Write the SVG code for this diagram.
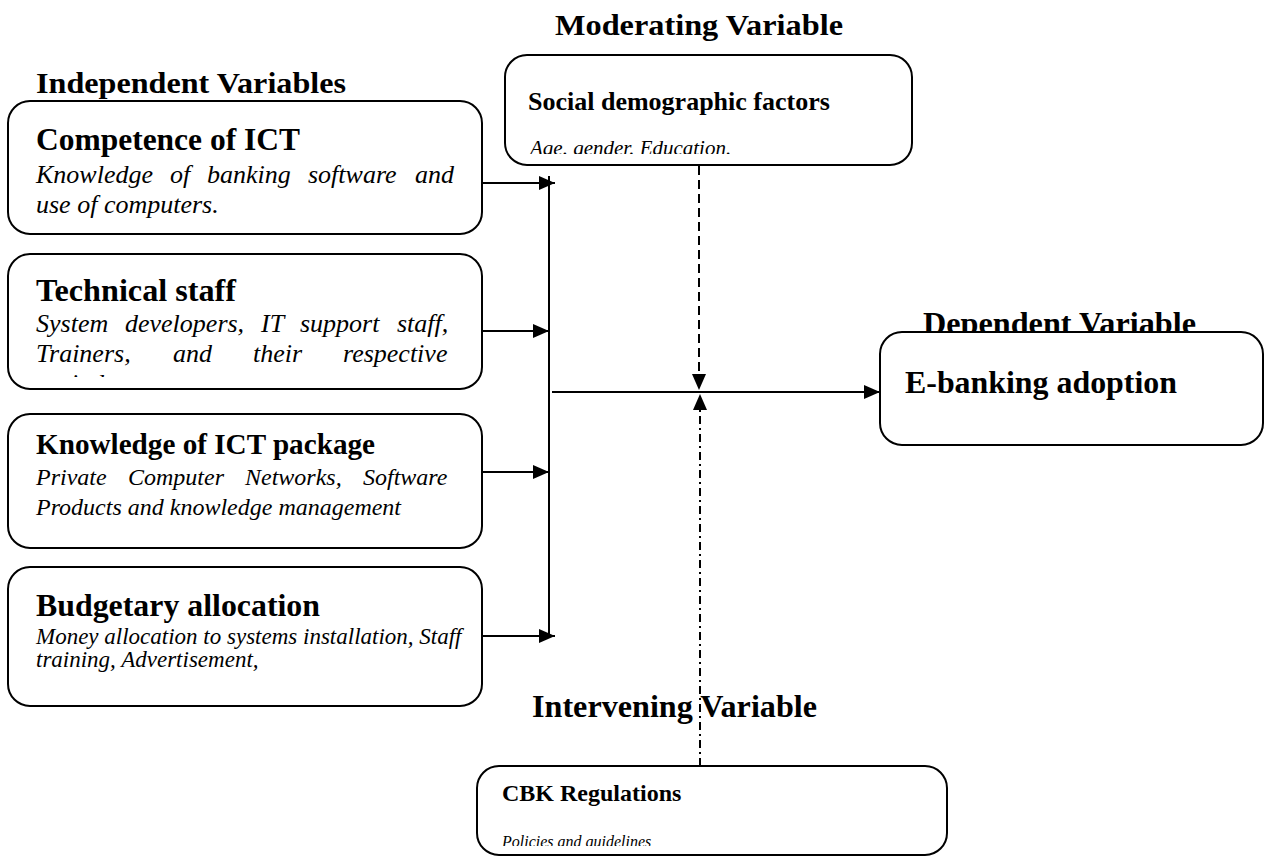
<svg xmlns="http://www.w3.org/2000/svg" width="1264" height="857" viewBox="0 0 1264 857">
<style>
.box{fill:#fff;stroke:#000;stroke-width:2}
.b{font-family:"Liberation Serif","Times New Roman",serif;font-weight:bold;fill:#000}
.i{font-family:"Liberation Serif","Times New Roman",serif;font-style:italic;fill:#000}
.ln{stroke:#000;stroke-width:2;fill:none}
</style>
<defs>
<marker id="ah" markerUnits="userSpaceOnUse" markerWidth="18" markerHeight="16" refX="16" refY="7" orient="auto"><path d="M0,0 L16,7 L0,14 z" fill="#000"/></marker>
<clipPath id="c2"><rect x="8" y="254" width="474" height="123"/></clipPath>
<clipPath id="cs"><rect x="505" y="55" width="407" height="99"/></clipPath>
<clipPath id="cc"><rect x="477" y="766" width="470" height="80"/></clipPath>
</defs>
<rect width="1264" height="857" fill="#fff"/>

<text class="b" x="36" y="93" font-size="30" textLength="310" lengthAdjust="spacingAndGlyphs">Independent Variables</text>
<text class="b" x="555" y="35" font-size="30" textLength="288" lengthAdjust="spacingAndGlyphs">Moderating Variable</text>
<text class="b" x="923" y="334" font-size="31" textLength="273" lengthAdjust="spacingAndGlyphs">Dependent Variable</text>
<text class="b" x="532" y="717" font-size="31" textLength="285" lengthAdjust="spacingAndGlyphs">Intervening Variable</text>

<g id="competence">
<rect class="box" x="8" y="101" width="474" height="133" rx="22"/>
<text class="b" x="36" y="150" font-size="32" textLength="264" lengthAdjust="spacingAndGlyphs">Competence of ICT</text>
<text class="i" y="183" font-size="26"><tspan x="36">Knowledge</tspan><tspan x="170">of</tspan><tspan x="207">banking</tspan><tspan x="308">software</tspan><tspan x="415">and</tspan></text>
<text class="i" x="36" y="213" font-size="26">use of computers.</text>
</g>

<g id="technical">
<rect class="box" x="8" y="254" width="474" height="135" rx="22"/>
<text class="b" x="36" y="301" font-size="32" textLength="200" lengthAdjust="spacingAndGlyphs">Technical staff</text>
<text class="i" y="332" font-size="26"><tspan x="36">System</tspan><tspan x="125">developers,</tspan><tspan x="261">IT</tspan><tspan x="300">support</tspan><tspan x="397">staff,</tspan></text>
<text class="i" y="362" font-size="26"><tspan x="36">Trainers,</tspan><tspan x="173">and</tspan><tspan x="253">their</tspan><tspan x="343">respective</tspan></text>
<text class="i" x="36" y="392" font-size="26" clip-path="url(#c2)">periods</text>
</g>

<g id="package">
<rect class="box" x="8" y="414" width="474" height="134" rx="22"/>
<text class="b" x="36" y="454" font-size="29" textLength="339" lengthAdjust="spacingAndGlyphs">Knowledge of ICT package</text>
<text class="i" y="485" font-size="24"><tspan x="36">Private</tspan><tspan x="128">Computer</tspan><tspan x="245">Networks,</tspan><tspan x="363">Software</tspan></text>
<text class="i" x="36" y="515" font-size="24">Products and knowledge management</text>
</g>

<g id="budget">
<rect class="box" x="8" y="567" width="474" height="139" rx="22"/>
<text class="b" x="36" y="616" font-size="32" textLength="284" lengthAdjust="spacingAndGlyphs">Budgetary allocation</text>
<text class="i" x="36" y="644" font-size="23">Money allocation to systems installation, Staff</text>
<text class="i" x="36" y="667" font-size="23">training, Advertisement,</text>
</g>

<g id="social">
<rect class="box" x="505" y="55" width="407" height="110" rx="22"/>
<text class="b" x="528" y="110" font-size="26">Social demographic factors</text>
<text class="i" x="530" y="155" font-size="21" clip-path="url(#cs)">Age. gender. Education.</text>
</g>

<g id="ebanking">
<rect class="box" x="880" y="332" width="383" height="113" rx="22"/>
<text class="b" x="905" y="393" font-size="32" textLength="272" lengthAdjust="spacingAndGlyphs">E-banking adoption</text>
</g>

<g id="cbk">
<rect class="box" x="477" y="766" width="470" height="89" rx="22"/>
<text class="b" x="502" y="801" font-size="24">CBK Regulations</text>
<text class="i" x="502" y="847" font-size="16" clip-path="url(#cc)">Policies and guidelines</text>
</g>

<g id="connectors">
<line class="ln" x1="549" y1="176" x2="549" y2="638"/>
<line class="ln" x1="482" y1="183" x2="555" y2="183" marker-end="url(#ah)"/>
<line class="ln" x1="482" y1="331" x2="549" y2="331" marker-end="url(#ah)"/>
<line class="ln" x1="482" y1="472" x2="549" y2="472" marker-end="url(#ah)"/>
<line class="ln" x1="482" y1="636" x2="555" y2="636" marker-end="url(#ah)"/>
<line class="ln" x1="552" y1="392" x2="880" y2="392" marker-end="url(#ah)"/>
<line class="ln" x1="699" y1="166" x2="699" y2="390" stroke-dasharray="9,5" marker-end="url(#ah)"/>
<line class="ln" x1="700" y1="766" x2="700" y2="394" stroke-dasharray="8,4,2,4" marker-end="url(#ah)"/>
</g>
</svg>
